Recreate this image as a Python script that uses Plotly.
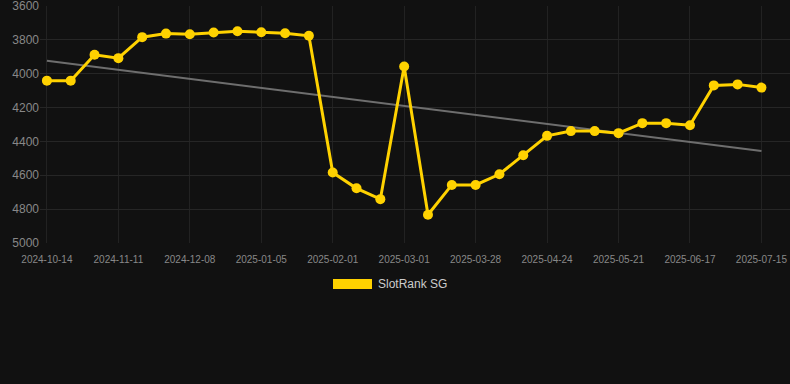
import plotly.graph_objects as go

dates = ["2024-10-14", "2024-10-23", "2024-11-02", "2024-11-11", "2024-11-20",
         "2024-11-29", "2024-12-08", "2024-12-17", "2024-12-27", "2025-01-05",
         "2025-01-14", "2025-01-23", "2025-02-01", "2025-02-10", "2025-02-20",
         "2025-03-01", "2025-03-10", "2025-03-19", "2025-03-28", "2025-04-06",
         "2025-04-15", "2025-04-24", "2025-05-03", "2025-05-12", "2025-05-21",
         "2025-05-30", "2025-06-08", "2025-06-17", "2025-06-26", "2025-07-06",
         "2025-07-15"]
ranks = [4041, 4041, 3888, 3908, 3784, 3763, 3767, 3757, 3749, 3755,
         3761, 3776, 4584, 4677, 4741, 3957, 4833, 4657, 4657, 4594,
         4482, 4367, 4339, 4339, 4351, 4292, 4292, 4304, 4069, 4063,
         4082]
trend_x = [dates[0], dates[-1]]
trend_y = [3924, 4457]
tick_labels = ["2024-10-14", "2024-11-11", "2024-12-08", "2025-01-05", "2025-02-01",
               "2025-03-01", "2025-03-28", "2025-04-24", "2025-05-21", "2025-06-17",
               "2025-07-15"]
y_ticks = [3600, 3800, 4000, 4200, 4400, 4600, 4800, 5000]
series_name = "SlotRank SG"

GOLD = "#FFD200"

fig = go.Figure()
fig.add_trace(go.Scatter(
    x=trend_x, y=trend_y, mode="lines",
    line=dict(color="#6e6e6e", width=2), showlegend=False, hoverinfo="skip"))
fig.add_trace(go.Scatter(
    x=dates, y=ranks, mode="lines+markers", name=series_name,
    line=dict(color=GOLD, width=3),
    marker=dict(color=GOLD, size=10), showlegend=False))

# legend drawn manually
fig.add_shape(type="rect", xref="paper", yref="paper",
              x0=(333 - 40) / 750, x1=(372 - 40) / 750,
              y0=(243 - 289) / 237, y1=(243 - 279) / 237,
              fillcolor=GOLD, line=dict(width=0))
fig.add_annotation(text=series_name, xref="paper", yref="paper",
                   x=(376 - 40) / 750, y=(243 - 284) / 237,
                   xanchor="left", yanchor="middle", showarrow=False,
                   font=dict(color="#cccccc", size=12))

fig.update_layout(
    width=790, height=384,
    paper_bgcolor="#111111", plot_bgcolor="#111111",
    margin=dict(l=40, r=0, t=6, b=141),
    font=dict(family="Liberation Sans, Arial, sans-serif", color="#888888"),
    showlegend=False,
    xaxis=dict(type="category", categoryorder="array", categoryarray=dates,
               range=[-0.29, 31.2],
               tickmode="array", tickvals=tick_labels, ticktext=tick_labels,
               showgrid=True, gridcolor="#222222", gridwidth=1,
               zeroline=False, showline=False, ticks="",
               ticklabeloverflow="allow", ticklabelstandoff=9,
               tickfont=dict(size=10, color="#888888")),
    yaxis=dict(range=[5000, 3600], tickmode="array", tickvals=y_ticks,
               showgrid=True, gridcolor="#262626", gridwidth=1,
               zeroline=False, showline=False, ticks="",
               ticklabeloverflow="allow",
               tickfont=dict(size=12, color="#888888")),
)

fig.write_html(
    "out.html",
    config={"displayModeBar": False},
    post_script="document.body.style.margin='0';"
                "document.body.style.background='#111111';",
)
